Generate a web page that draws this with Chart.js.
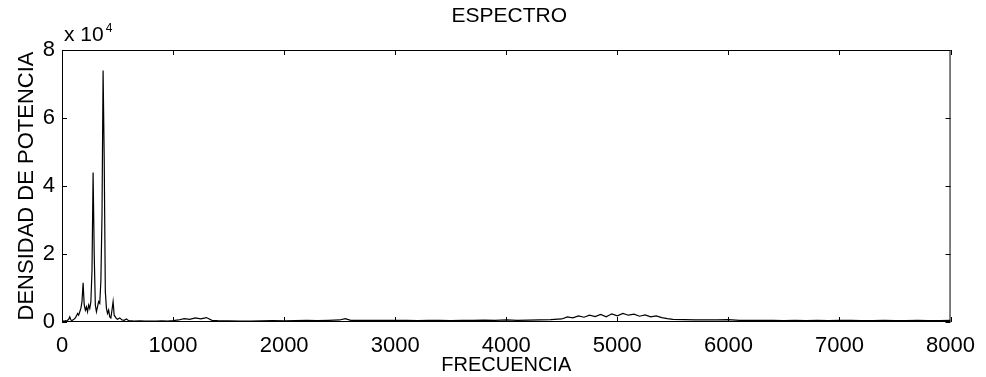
<!DOCTYPE html>
<html>
<head>
<meta charset="utf-8">
<script src="https://cdn.jsdelivr.net/npm/chart.js@4/dist/chart.umd.min.js"></script>
<style>
html,body{margin:0;padding:0;background:#fff;}
#wrap{width:986px;height:377px;position:relative;}
</style>
</head>
<body>
<div id="wrap"><canvas id="c" width="986" height="377"></canvas></div>
<script>
const titleText = "ESPECTRO";
const xTitle = "FRECUENCIA";
const yTitle = "DENSIDAD DE POTENCIA";
const exponentLabel = "x 10";
const exponentPower = "4";
const xTicks = [0,1000,2000,3000,4000,5000,6000,7000,8000];
const yTicks = [0,20000,40000,60000,80000];

const freqLow = [0,10,20,30,40,50,60,70,80,90,100,110,120,130,140,150,160,170,180,190,
  200,210,220,230,240,250,260,270,280,290,300,310,320,330,340,350,360,370,380,390,
  400,410,420,430,440,450,460,470,480,490,500];
const powerLow = [200,300,200,400,300,500,800,1500,600,400,700,900,1200,1800,2500,2000,3000,4000,6000,11500,
  5000,3500,4500,3000,5000,4000,6000,15000,44000,20000,5000,3000,4500,6000,5500,12000,31000,74000,48000,9000,
  4000,2500,3500,1500,1200,3500,6000,2000,1500,1000,800];

const freqHigh = [520,540,560,580,600,650,700,750,800,850,900,950,1000,1050,1100,1150,1200,1250,1300,1350,
  1400,1500,1600,1700,1800,1900,2000,2100,2200,2300,2400,2500,2550,2600,2700,2800,2900,3000,3100,3200,
  3300,3400,3500,3600,3700,3800,3900,4000,4100,4200,4300,4400,4500,4550,4600,4650,4700,4750,4800,4850,
  4900,4950,5000,5050,5100,5150,5200,5250,5300,5350,5400,5450,5500,5600,5700,5800,5900,6000,6100,6200,
  6300,6400,6500,6600,6700,6800,6900,7000,7100,7200,7300,7400,7500,7600,7700,7800,7900,8000];
const powerHigh = [1200,600,500,900,400,300,350,300,250,300,350,300,400,600,1000,800,1200,900,1300,500,
  400,350,300,300,350,400,350,400,450,400,500,600,1000,500,450,500,450,500,450,400,
  500,450,400,450,500,550,500,600,500,550,600,700,900,1500,1200,1800,1400,2000,1600,2200,
  1500,2400,1800,2500,2000,2300,1700,2100,1500,1800,1300,1000,800,700,600,650,600,700,500,450,
  500,450,400,450,400,450,400,500,450,400,400,450,400,400,450,400,400,500];

const freqs = freqLow.concat(freqHigh);
const power = powerLow.concat(powerHigh);
const points = freqs.map((f,i)=>({x:f,y:power[i]}));

const FONT = "'Liberation Sans', Arial, sans-serif";

const framePlugin = {
  id:'frame',
  afterDraw(chart){
    const {ctx, chartArea:a, scales} = chart;
    ctx.save();
    ctx.strokeStyle = '#000';
    ctx.lineWidth = 1;
    ctx.strokeRect(a.left+0.5, a.top+0.5, a.right-a.left-1, a.bottom-a.top-1);
    const tl = 5;
    ctx.beginPath();
    xTicks.forEach(v=>{
      const px = Math.round(scales.x.getPixelForValue(v))+0.5;
      ctx.moveTo(px,a.bottom); ctx.lineTo(px,a.bottom-tl);
      ctx.moveTo(px,a.top); ctx.lineTo(px,a.top+tl);
    });
    yTicks.forEach(v=>{
      const py = Math.round(scales.y.getPixelForValue(v))+0.5;
      ctx.moveTo(a.left,py); ctx.lineTo(a.left+tl,py);
      ctx.moveTo(a.right,py); ctx.lineTo(a.right-tl,py);
    });
    ctx.stroke();
    // title
    ctx.fillStyle = '#000';
    ctx.textAlign = 'center';
    ctx.textBaseline = 'middle';
    ctx.font = "21px " + FONT;
    ctx.fillText(titleText, (a.left+a.right)/2 + 3, 16);
    // exponent label
    ctx.textAlign = 'left';
    ctx.textBaseline = 'alphabetic';
    ctx.font = "21px " + FONT;
    ctx.fillText(exponentLabel, a.left+2, 41);
    const w = ctx.measureText(exponentLabel).width;
    ctx.font = "12px " + FONT;
    ctx.fillText(exponentPower, a.left+2+w+2, 32);
    ctx.restore();
  }
};

new Chart(document.getElementById('c'), {
  type:'line',
  data:{datasets:[{data:points, borderColor:'#000', borderWidth:1.2, pointRadius:0, tension:0, fill:false}]},
  options:{
    responsive:false, animation:false,
    layout:{padding:{top:50,right:33,left:0,bottom:0}},
    plugins:{legend:{display:false}, tooltip:{enabled:false}, title:{display:false}},
    scales:{
      x:{type:'linear', min:0, max:8000,
        afterBuildTicks: s => { s.ticks = xTicks.map(v=>({value:v})); },
        afterFit: s => { s.height = 55; },
        grid:{display:false, drawTicks:false},
        border:{display:false},
        ticks:{color:'#000', padding:11, font:{family:FONT, size:22}, callback:v=>String(v), maxRotation:0, autoSkip:false},
        title:{display:true, text:xTitle, color:'#000', font:{family:FONT, size:20}, padding:{top:1,bottom:0}}
      },
      y:{type:'linear', min:0, max:80000,
        afterBuildTicks: s => { s.ticks = yTicks.map(v=>({value:v})); },
        afterFit: s => { s.width = 62; },
        grid:{display:false, drawTicks:false},
        border:{display:false},
        ticks:{color:'#000', padding:7, font:{family:FONT, size:22}, callback:v=>String(v/10000)},
        title:{display:true, text:yTitle, color:'#000', font:{family:FONT, size:22}, padding:{top:14,bottom:0}}
      }
    }
  },
  plugins:[framePlugin]
});
</script>
</body>
</html>
